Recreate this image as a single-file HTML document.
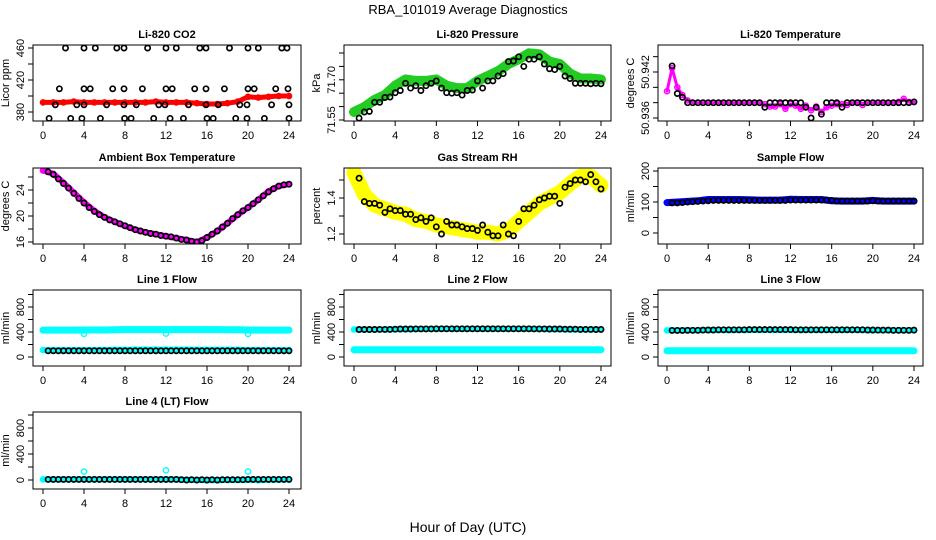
<!DOCTYPE html>
<html><head><meta charset="utf-8"><style>
html,body{margin:0;padding:0;background:#fff;}
svg{display:block;font-family:"Liberation Sans",Arial,sans-serif;}
</style></head><body>
<svg id="chart" width="936" height="540" viewBox="0 0 936 540" xmlns="http://www.w3.org/2000/svg">
<text x="468" y="14" text-anchor="middle" font-size="13">RBA_101019  Average Diagnostics</text>
<text x="468" y="532" text-anchor="middle" font-size="14">Hour of Day (UTC)</text>
</svg>
<script>
const hoursFull=[0,1,2,3,4,5,6,7,8,9,10,11,12,13,14,15,16,17,18,19,20,21,22,23,24];
const hoursHalf=[0.5,1,1.5,2,2.5,3,3.5,4,4.5,5,5.5,6,6.5,7,7.5,8,8.5,9,9.5,10,10.5,11,11.5,12,12.5,13,13.5,14,14.5,15,15.5,16,16.5,17,17.5,18,18.5,19,19.5,20,20.5,21,21.5,22,22.5,23,23.5,24];
const hoursHalf0=[0].concat(hoursHalf);
const xTicks=[0,4,8,12,16,20,24];

// CO2
const co2Red=[392,392,392,393,392,392,392,392,392,392,392,393,392,392,392,391,390,390,391,393,399,398,399,400,400];
const co2BlackHours=[2.2,4,5.1,7.2,7.9,10.2,12,13,15.3,15.9,18.2,20,21,23.3,23.8,1.6,4,4.6,6.8,7.9,9.7,12,12.6,14.8,15.9,17.7,20,20.6,22.7,23.9,1.2,3.3,4,6.2,7.9,9.1,11.3,11.9,14.2,15.9,17.1,19.2,19.9,22.3,24,0.6,2.7,3.8,5.6,7.96,8.6,10.8,12.4,13.7,16,16.6,18.8,19.9,21.6,24];
const co2BlackVals=[460,460,460,460,460,460,460,460,460,460,460,460,460,460,460,409,409,409,409,409,409,409,409,409,409,409,409,409,409,409,389,389,389,389,389,389,389,389,389,389,389,389,389,389,389,372,372,372,372,372,372,372,372,372,372,372,372,372,372,372];
// Pressure
const presGreen=[71.580,71.598,71.625,71.643,71.678,71.701,71.696,71.696,71.701,71.678,71.669,71.669,71.696,71.714,71.732,71.759,71.777,71.799,71.795,71.768,71.759,71.723,71.705,71.705,71.701];
const presBlack=[71.557,71.580,71.582,71.616,71.616,71.634,71.636,71.652,71.660,71.687,71.669,71.678,71.660,71.678,71.687,71.696,71.669,71.652,71.650,71.652,71.643,71.660,71.662,71.696,71.669,71.696,71.696,71.714,71.723,71.768,71.770,71.786,71.750,71.777,71.777,71.786,71.759,71.741,71.738,71.750,71.714,71.705,71.687,71.687,71.687,71.685,71.687,71.685];
// Li-820 temperature
const tempMag=[50.9395,50.9425,50.9400,50.9390,50.9383,50.9380,50.9380,50.9380,50.9380,50.9380,50.9380,50.9380,50.9380,50.9380,50.9380,50.9380,50.9380,50.9380,50.9380,50.9378,50.9375,50.9375,50.9378,50.9372,50.9378,50.9376,50.9372,50.9376,50.9370,50.9375,50.9368,50.9374,50.9376,50.9378,50.9378,50.9377,50.9380,50.9380,50.9377,50.9380,50.9380,50.9380,50.9380,50.9380,50.9380,50.9381,50.9385,50.9381,50.9381];
const tempBlack=[50.9428,50.9392,50.9387,50.9380,50.9380,50.9380,50.9380,50.9380,50.9380,50.9380,50.9380,50.9380,50.9380,50.9380,50.9380,50.9380,50.9380,50.9380,50.9374,50.9380,50.9380,50.9380,50.9380,50.9380,50.9380,50.9380,50.9374,50.9360,50.9374,50.9365,50.9380,50.9380,50.9380,50.9374,50.9380,50.9380,50.9380,50.9380,50.9380,50.9380,50.9380,50.9380,50.9380,50.9380,50.9380,50.9380,50.9380,50.9381];
// Ambient
const ambMag=[27.0,26.5,25.1,23.6,22.1,20.8,19.8,19.1,18.5,17.9,17.5,17.2,16.9,16.6,16.3,16.0,16.7,17.7,18.9,20.2,21.3,22.5,23.8,24.6,24.9];
const ambBlack=[26.8,26.4,25.7,25.0,24.3,23.5,22.7,22.0,21.3,20.7,20.2,19.8,19.4,19.1,18.8,18.5,18.2,17.9,17.7,17.5,17.3,17.2,17.0,16.9,16.8,16.6,16.4,16.3,16.1,16.0,16.2,16.7,17.2,17.7,18.3,18.9,19.6,20.2,20.8,21.3,21.9,22.5,23.1,23.7,24.2,24.6,24.8,24.9];
// RH
const rhYellow=[1.54,1.42,1.36,1.34,1.32,1.31,1.28,1.27,1.25,1.24,1.23,1.22,1.21,1.21,1.20,1.22,1.27,1.32,1.37,1.40,1.43,1.48,1.52,1.52,1.47];
const rhBlack=[1.51,1.38,1.37,1.37,1.36,1.32,1.34,1.33,1.33,1.31,1.31,1.28,1.29,1.27,1.29,1.24,1.20,1.27,1.25,1.25,1.24,1.23,1.23,1.22,1.25,1.21,1.19,1.19,1.25,1.20,1.19,1.27,1.34,1.34,1.36,1.39,1.40,1.41,1.41,1.37,1.46,1.48,1.50,1.50,1.49,1.53,1.49,1.45];
// Sample flow
const sfBlue=[98,100,102,104,108,108,108,108,107,106,106,106,109,108,108,108,104,103,103,103,105,103,103,103,103];
const sfBlack=[97,97,98,100,101,102,103,104,105,105,105,105,105,105,105,105,105,105,105,105,105,105,105,106,106,106,106,106,106,106,106,105,103,103,103,103,103,103,103,104,103,103,103,103,103,103,103,103];
// Line flows
const l1CyanHigh=[430,430,430,430,432,432,432,435,438,438,438,438,438,438,438,438,438,438,435,435,432,430,430,430,430];
const l1CyanLow=[110,110,110,110,112,112,112,115,115,118,118,118,118,118,118,115,115,115,115,115,112,112,110,110,110];
const l1Black=[100,100,100,100,100,100,100,100,100,100,100,100,100,100,100,100,100,100,100,100,100,100,100,100,100,100,100,100,100,100,100,100,100,100,100,100,100,100,100,100,100,100,100,100,100,100,100,100];
const l1OutHours=[4,12,20];
const l1OutVals=[370,375,370];
const l2CyanHigh=[440,440,440,440,445,445,448,450,450,450,450,450,450,450,450,450,450,450,450,445,445,440,440,440,440];
const l2CyanLow=[115,115,115,115,115,115,115,115,115,115,115,115,115,115,115,115,115,115,115,115,115,115,115,115,115];
const l2Black=[440,440,440,440,442,442,442,445,448,448,448,450,450,450,450,452,452,452,452,452,452,452,452,452,452,452,452,452,452,452,452,452,452,452,450,450,450,448,448,448,445,445,445,442,442,442,440,442];
const l3CyanHigh=[425,425,425,425,430,430,430,432,432,432,432,432,432,432,432,432,432,432,432,430,425,425,425,425,425];
const l3CyanLow=[100,100,100,100,100,100,100,100,100,100,100,100,100,100,100,100,100,100,100,100,100,100,100,100,100];
const l3Black=[425,425,425,428,428,428,430,432,432,435,435,435,435,435,435,438,438,438,438,438,438,438,438,438,435,435,435,435,435,435,435,435,435,435,435,435,435,435,432,432,430,430,430,428,428,428,428,430];
const l4Cyan=[10,10,10,10,10,10,10,10,10,10,10,10,10,8,5,0,-5,-5,0,0,5,-5,5,5,10];
const l4Black=[10,10,10,10,10,10,10,10,10,10,10,10,10,10,10,10,10,10,10,10,10,10,10,10,10,10,5,0,5,0,5,0,5,0,5,5,5,5,5,10,10,10,10,10,10,10,10,10];
const l4SpikeHours=[4,12,20];
const l4SpikeVals=[130,150,130];

const NS="http://www.w3.org/2000/svg";
const svg=document.getElementById('chart');
function mk(tag,attrs,parent){const e=document.createElementNS(NS,tag);for(const k in attrs)e.setAttribute(k,attrs[k]);(parent||svg).appendChild(e);return e;}

const cols=[{l:33,r:301,x0:43,x24:289},{l:344,r:611,x0:354,x24:601},{l:658,r:923,x0:667,x24:914}];
const rows=[{t:45,b:121},{t:168,b:244},{t:290,b:366},{t:412,b:489}];

function panel(cfg){
  const c=cols[cfg.col],r=rows[cfg.row];
  const g=mk('g',{});
  
  
  const xs=h=>c.x0+h*(c.x24-c.x0)/24;
  const ys=v=>cfg.p0+(v-cfg.v0)*(cfg.p1-cfg.p0)/(cfg.v1-cfg.v0);
  const clip='clip-'+cfg.name;
  const cp=mk('clipPath',{id:clip},g);
  mk('rect',{x:c.l,y:r.t,width:c.r-c.l,height:r.b-r.t},cp);
  const plot=mk('g',{'clip-path':'url(#'+clip+')'},g);
  
  
  cfg.series.forEach(s=>{
    const sg=mk('g',{},plot);
    
    
    if(s.band){
      const pts=s.hours.map((h,i)=>xs(h).toFixed(1)+','+ys(s.vals[i]).toFixed(1)).join(' ');
      const pl=mk('polyline',{points:pts,fill:'none',stroke:s.color,'stroke-width':s.band,'stroke-linejoin':'round','stroke-linecap':'round'},sg);
      
      
    }
    const sw=s.color==='#000'?1.7:1.4;
    s.hours.forEach((h,i)=>{
      const ci=mk('circle',{cx:xs(h).toFixed(1),cy:ys(s.vals[i]).toFixed(1),r:2.6,fill:'none',stroke:s.color,'stroke-width':sw},sg);
      
      
    });
  });
  const box=mk('rect',{x:c.l,y:r.t,width:c.r-c.l,height:r.b-r.t,fill:'none',stroke:'#000','stroke-width':1},g);
  
  
  const t=mk('text',{x:(c.l+c.r)/2,y:r.t-7,'text-anchor':'middle','font-size':11,'font-weight':'bold'},g);
  t.textContent=cfg.title;
  
  
  mk('line',{x1:xs(0),x2:xs(24),y1:r.b,y2:r.b,stroke:'#000'},g);
  xTicks.forEach(h=>{
    mk('line',{x1:xs(h),x2:xs(h),y1:r.b,y2:r.b+5,stroke:'#000'},g);
    const tl=mk('text',{x:xs(h),y:r.b+18,'text-anchor':'middle','font-size':11},g);
    tl.textContent=h;
    
    
  });
  mk('line',{x1:c.l,x2:c.l,y1:ys(cfg.ticks[0]),y2:ys(cfg.ticks[cfg.ticks.length-1]),stroke:'#000'},g);
  cfg.ticks.forEach((v,i)=>{
    const y=ys(v);
    mk('line',{x1:c.l-5,x2:c.l,y1:y,y2:y,stroke:'#000'},g);
    if(cfg.labels[i]){
      const yl=mk('text',{x:c.l-9,y:y,'text-anchor':'middle','font-size':11,transform:'rotate(-90 '+(c.l-9)+' '+y+')'},g);
      yl.textContent=cfg.labels[i];
      
      
    }
  });
  const ym=(r.t+r.b)/2, yx=c.l-24;
  const yt=mk('text',{x:yx,y:ym,'text-anchor':'middle','font-size':11,transform:'rotate(-90 '+yx+' '+ym+')'},g);
  yt.textContent=cfg.ylab;
  
  
}

const flowTicks=[0,200,400,600,800,1000];
const flowLabels=['0','','400','','800',''];
panel({name:'co2-panel',title:'Li-820 CO2',col:0,row:0,v0:380,p0:112,v1:460,p1:48,ticks:[380,400,420,440,460],labels:['380','','420','','460'],ylab:'Licor ppm',
 series:[{name:'co2-raw',color:'#ff0000',band:5,hours:hoursFull,vals:co2Red},{name:'co2-average',color:'#000',hours:co2BlackHours,vals:co2BlackVals}]});
panel({name:'pressure-panel',title:'Li-820 Pressure',col:1,row:0,v0:71.55,p0:120,v1:71.70,p1:79.8,ticks:[71.55,71.60,71.65,71.70,71.75,71.80],labels:['71.55','','','71.70','',''],ylab:'kPa',
 series:[{name:'pressure-raw',color:'#22cc22',band:10,hours:hoursFull,vals:presGreen},{name:'pressure-average',color:'#000',hours:hoursHalf,vals:presBlack}]});
panel({name:'temperature-panel',title:'Li-820 Temperature',col:2,row:0,v0:50.936,p0:118,v1:50.942,p1:72,ticks:[50.936,50.938,50.940,50.942,50.944],labels:['50.936','','','50.942',''],ylab:'degrees C',
 series:[{name:'temperature-raw',color:'#ff00ff',band:3,hours:hoursHalf0,vals:tempMag},{name:'temperature-average',color:'#000',hours:hoursHalf,vals:tempBlack}]});
panel({name:'ambient-panel',title:'Ambient Box Temperature',col:0,row:1,v0:16,p0:242,v1:24,p1:190,ticks:[16,18,20,22,24,26],labels:['16','','20','','24',''],ylab:'degrees C',
 series:[{name:'ambient-raw',color:'#ff00ff',band:6,hours:hoursFull,vals:ambMag},{name:'ambient-average',color:'#000',hours:hoursHalf,vals:ambBlack}]});
panel({name:'rh-panel',title:'Gas Stream RH',col:1,row:1,v0:1.2,p0:234,v1:1.4,p1:198,ticks:[1.2,1.3,1.4,1.5],labels:['1.2','','1.4',''],ylab:'percent',
 series:[{name:'rh-raw',color:'#ffff00',band:15,hours:hoursFull,vals:rhYellow},{name:'rh-average',color:'#000',hours:hoursHalf,vals:rhBlack}]});
panel({name:'sample-flow-panel',title:'Sample Flow',col:2,row:1,v0:0,p0:233,v1:100,p1:202,ticks:[0,50,100,150,200],labels:['0','','100','','200'],ylab:'ml/min',
 series:[{name:'sample-flow-raw',color:'#0000ff',band:7,hours:hoursFull,vals:sfBlue},{name:'sample-flow-average',color:'#000',hours:hoursHalf,vals:sfBlack}]});
panel({name:'line1-panel',title:'Line 1 Flow',col:0,row:2,v0:0,p0:357,v1:800,p1:307,ticks:flowTicks,labels:flowLabels,ylab:'ml/min',
 series:[{name:'line1-high',color:'#00ffff',band:7,hours:hoursFull,vals:l1CyanHigh},{name:'line1-low',color:'#00ffff',band:6,hours:hoursFull,vals:l1CyanLow},{name:'line1-outliers',color:'#00ffff',hours:l1OutHours,vals:l1OutVals},{name:'line1-average',color:'#000',hours:hoursHalf,vals:l1Black}]});
panel({name:'line2-panel',title:'Line 2 Flow',col:1,row:2,v0:0,p0:357,v1:800,p1:307,ticks:flowTicks,labels:flowLabels,ylab:'ml/min',
 series:[{name:'line2-high',color:'#00ffff',band:6,hours:hoursFull,vals:l2CyanHigh},{name:'line2-low',color:'#00ffff',band:7,hours:hoursFull,vals:l2CyanLow},{name:'line2-average',color:'#000',hours:hoursHalf,vals:l2Black}]});
panel({name:'line3-panel',title:'Line 3 Flow',col:2,row:2,v0:0,p0:357,v1:800,p1:307,ticks:flowTicks,labels:flowLabels,ylab:'ml/min',
 series:[{name:'line3-high',color:'#00ffff',band:6,hours:hoursFull,vals:l3CyanHigh},{name:'line3-low',color:'#00ffff',band:7,hours:hoursFull,vals:l3CyanLow},{name:'line3-average',color:'#000',hours:hoursHalf,vals:l3Black}]});
panel({name:'line4-panel',title:'Line 4 (LT) Flow',col:0,row:3,v0:0,p0:480,v1:800,p1:428,ticks:flowTicks,labels:flowLabels,ylab:'ml/min',
 series:[{name:'line4-raw',color:'#00ffff',band:6,hours:hoursFull,vals:l4Cyan},{name:'line4-spikes',color:'#00ffff',hours:l4SpikeHours,vals:l4SpikeVals},{name:'line4-average',color:'#000',hours:hoursHalf,vals:l4Black}]});
</script>
</body></html>
